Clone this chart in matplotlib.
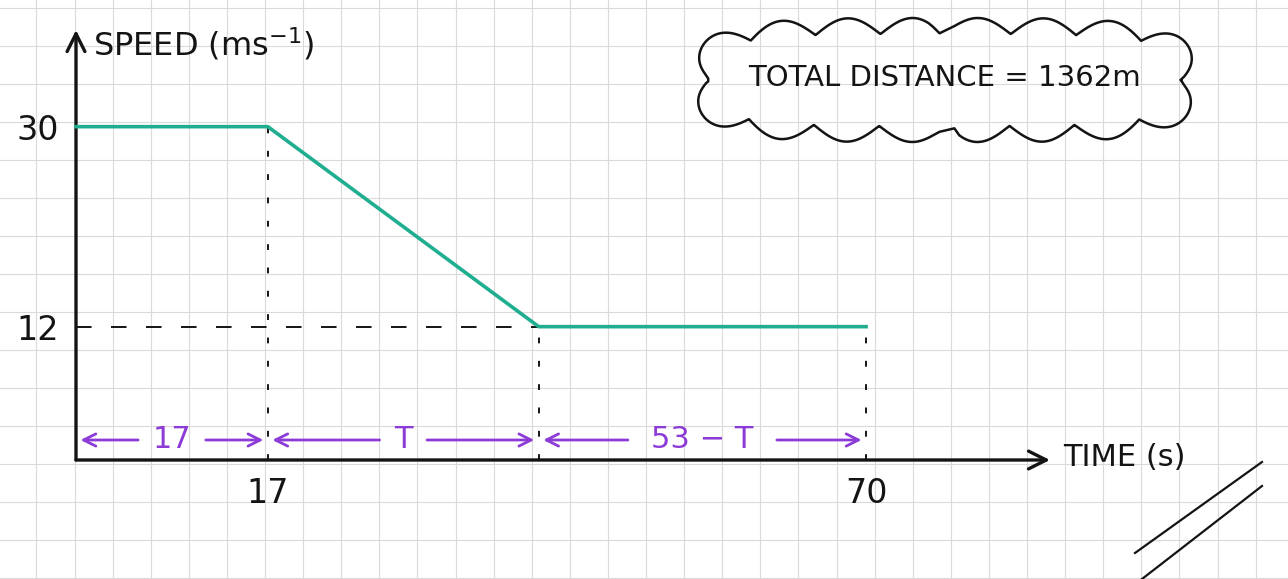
import numpy as np
import matplotlib.pyplot as plt

# speed-time profile of the journey
times = [0, 17, 41, 70]
speeds = [30, 30, 12, 12]
x_ticks = [17, 70]
y_ticks = [12, 30]
segment_labels = ['17', 'T', '53 − T']
total_distance = 1362

GREEN = '#1fae90'
PURPLE = '#8c3bd6'
INK = '#141414'

W, H = 1288, 579
fig = plt.figure(figsize=(W / 100, H / 100), dpi=100)

# squared paper underneath, in pixel units
paper = fig.add_axes([0, 0, 1, 1])
paper.set_xlim(0, W)
paper.set_ylim(H, 0)
paper.axis('off')
for gx in np.arange(36.5, W, 38.1):
    paper.axvline(gx, color='#dadada', lw=0.8, zorder=0)
for gy in np.arange(8.3, H, 38.0):
    paper.axhline(gy, color='#dadada', lw=0.8, zorder=0)

# cloud around the total distance note
t = np.linspace(0, 2 * np.pi, 3000)
cx, cy, a, b = 945, 80, 236, 46
bx = cx + a * np.sign(np.cos(t)) * np.abs(np.cos(t)) ** 0.5
by = cy + b * np.sign(np.sin(t)) * np.abs(np.sin(t)) ** 0.5
dx, dy = np.gradient(bx), np.gradient(by)
seg = np.hypot(dx, dy)
arc = np.cumsum(seg) - seg[0]
bump = 16 * np.abs(np.sin(np.pi * 16 * arc / arc[-1]))
paper.plot(bx + dy / seg * bump, by - dx / seg * bump, color=INK, lw=1.8)
paper.text(cx, cy - 2, f'TOTAL DISTANCE = {total_distance}m', fontsize=21,
           color=INK, ha='center', va='center')

# the double slash in the corner
paper.plot([1135, 1262], [553, 462], color=INK, lw=1.6)
paper.plot([1142, 1262], [579, 486], color=INK, lw=1.6)

# chart axes: origin sits at pixel (76, 460)
ox, oy = 76, 460
ax = fig.add_axes([ox / W, (H - oy) / H, (1050 - ox) / W, (oy - 30) / H])
ax.set_xlim(0, 86.3)
ax.set_ylim(0, 38.7)
ax.patch.set_alpha(0)
for s in ax.spines.values():
    s.set_visible(False)
ax.set_xticks(x_ticks)
ax.set_yticks(y_ticks)
ax.tick_params(length=0, labelsize=24, colors=INK)
ax.tick_params(axis='y', pad=12)
ax.tick_params(axis='x', pad=12)

axis_kw = dict(arrowstyle='->', lw=2.4, color=INK, mutation_scale=32,
               shrinkA=0, shrinkB=0)
ax.annotate('', xy=(1, 0), xytext=(0, 0), xycoords='axes fraction',
            arrowprops=axis_kw, annotation_clip=False)
ax.annotate('', xy=(0, 1), xytext=(0, 0), xycoords='axes fraction',
            arrowprops=axis_kw, annotation_clip=False)
ax.text(1.5, 37.4, 'SPEED (ms$^{-1}$)', fontsize=23, color=INK,
        ha='left', va='center')
ax.text(87.5, 0.2, 'TIME (s)', fontsize=22, color=INK,
        ha='left', va='center', clip_on=False)

# dashed guides
ax.vlines(times[1:], 0, speeds[1:], colors=INK, lw=1.4,
          linestyles=[(0, (3, 9))])
ax.hlines(speeds[2], 0, times[2], colors=INK, lw=1.4,
          linestyles=[(0, (8, 10))])

# the speed profile
ax.plot(times, speeds, color=GREEN, lw=2.6, clip_on=False, zorder=4)

# interval arrows along the time axis
arrow_y = 1.8
arr_kw = dict(arrowstyle='->', lw=2, color=PURPLE, mutation_scale=22,
              shrinkA=0, shrinkB=0)
for t0, t1, lab in zip(times[:-1], times[1:], segment_labels):
    mid = (t0 + t1) / 2
    gap = 0.9 * len(lab) + 1.2
    ax.annotate('', xy=(t0 + 0.4, arrow_y), xytext=(mid - gap, arrow_y),
                arrowprops=arr_kw)
    ax.annotate('', xy=(t1 - 0.4, arrow_y), xytext=(mid + gap, arrow_y),
                arrowprops=arr_kw)
    ax.text(mid, arrow_y, lab, fontsize=22, color=PURPLE,
            ha='center', va='center')

fig.savefig('out.png', dpi=100)
